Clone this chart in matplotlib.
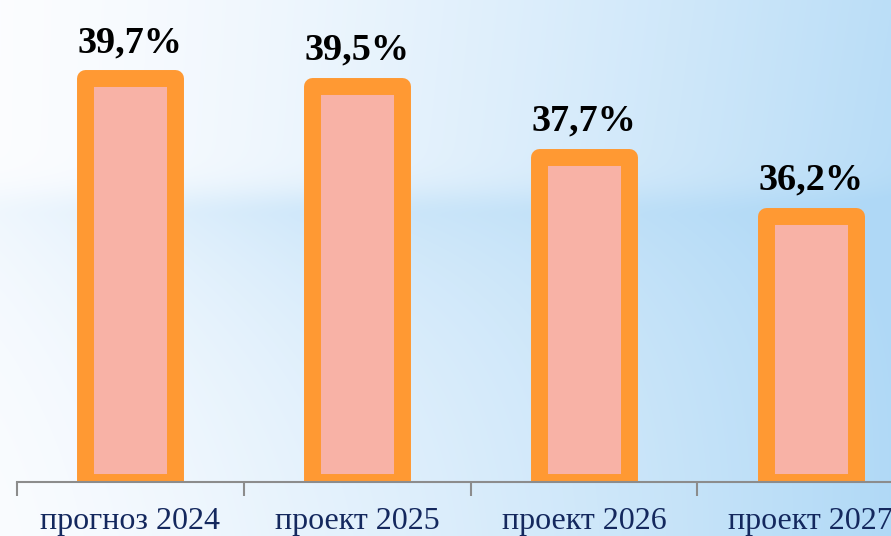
import numpy as np
import matplotlib
matplotlib.use("Agg")
import matplotlib.pyplot as plt

# data
categories = ["прогноз 2024", "проект 2025", "проект 2026", "проект 2027"]
values = [39.7, 39.5, 37.7, 36.2]
value_labels = ["39,7%", "39,5%", "37,7%", "36,2%"]

W, H, DPI = 891, 536, 100
fig = plt.figure(figsize=(W / DPI, H / DPI), dpi=DPI)

# background: white on the left fading to light blue on the right,
# with a soft light-blue band across the middle
bg_ax = fig.add_axes([0, 0, 1, 1], zorder=-1)
xx, yy = np.meshgrid(np.linspace(0, 1, W), np.arange(H))
t = 0.85 * xx ** 1.4 + 0.12 * xx * (yy / H)
band = np.where(yy < 215, np.exp(-((yy - 215) / 28.0) ** 2),
                np.exp(-(yy - 215) / 150.0))
t = t + 0.45 * band * (1 - 0.6 * xx) * (0.35 + 0.65 * np.clip(xx * 3, 0, 1))
t = np.clip(t, 0, 1)
white = np.array([0.985, 0.99, 1.0])
blue = np.array([0.69, 0.85, 0.965])
img = white + (blue - white) * t[..., None]
bg_ax.imshow(img, aspect="auto", extent=(0, 1, 0, 1), origin="upper")
bg_ax.axis("off")

# main axes (extends past the right edge, like the source crop)
ax = fig.add_axes([17 / W, 54 / H, (924 - 17) / W, 482 / H])
ax.set_facecolor("none")

x = np.arange(len(categories))
ymin, ymax = 29.4, 41.7
bars = ax.bar(x, [v - ymin for v in values], bottom=ymin, width=0.396,
              color="#F8B2A6", edgecolor="#FF9933", linewidth=12.2, zorder=2)
for b in bars:
    b.set_joinstyle("round")

for xi, v, lab in zip(x, values, value_labels):
    ax.annotate(lab, (xi, v), xytext=(0, 19), textcoords="offset points",
                ha="center", va="baseline", fontsize=27.5, fontweight="bold",
                family="Liberation Serif", color="black", zorder=3)

ax.set_xlim(-0.5, 3.5)
ax.set_ylim(ymin, ymax)
ax.set_yticks([])
for s in ["top", "right", "left"]:
    ax.spines[s].set_visible(False)
ax.spines["bottom"].set_color("#8c8c8c")
ax.spines["bottom"].set_linewidth(1.5)
ax.spines["bottom"].set_zorder(4)

ax.set_xticks(x)
ax.set_xticklabels(categories, fontsize=23, family="Liberation Serif",
                   color="#14285e")
ax.tick_params(axis="x", which="major", length=0, pad=18)
ax.set_xticks(np.arange(-0.5, 4, 1), minor=True)
ax.tick_params(axis="x", which="minor", length=10, width=1.5,
               color="#8c8c8c", direction="out")

fig.savefig("out.png", dpi=DPI)
